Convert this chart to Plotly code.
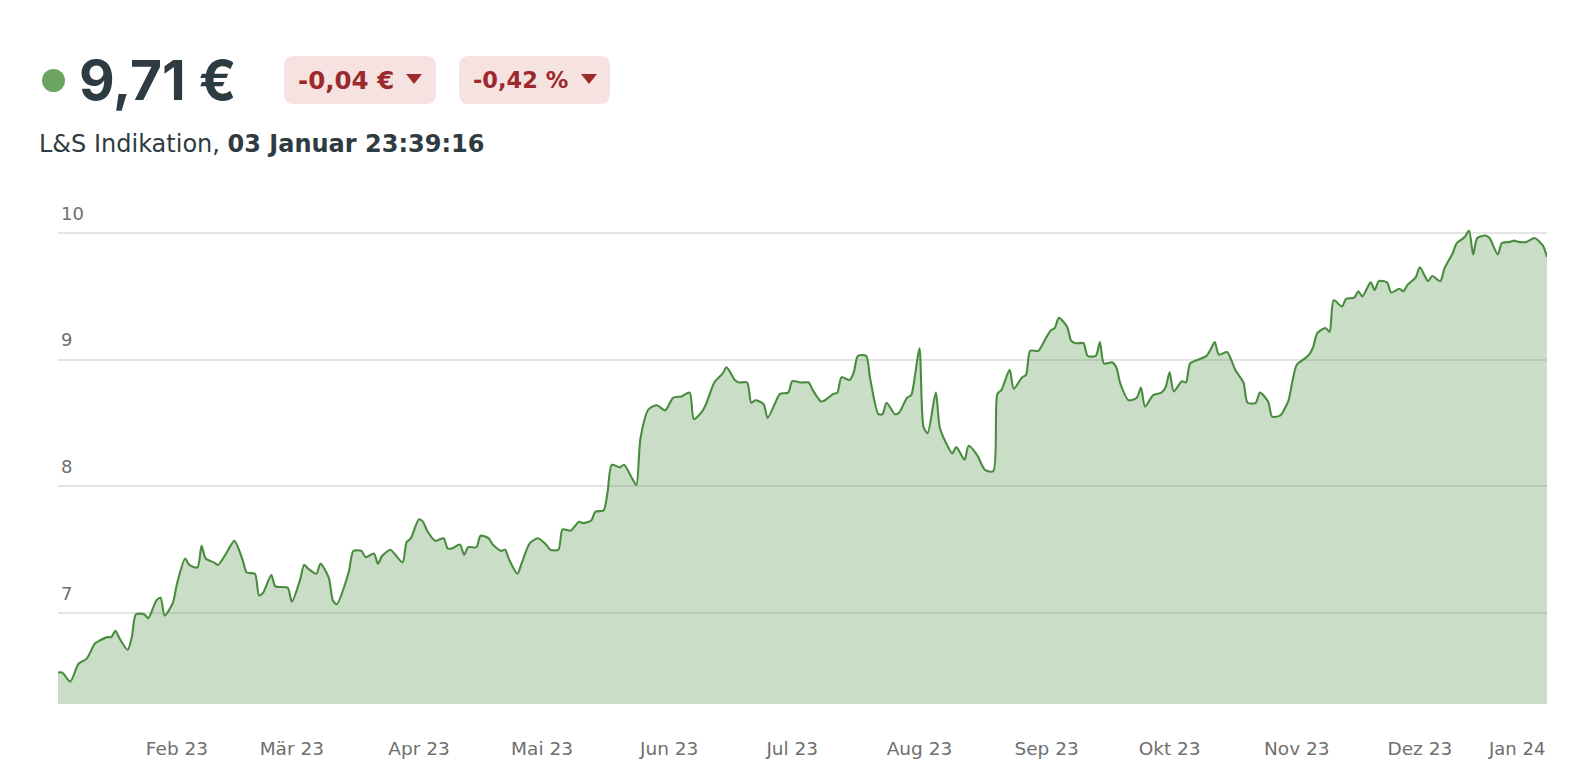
import pandas as pd
import plotly.graph_objects as go

# ---------------- data ----------------
start_date = "2023-01-03"

day = [0, 1, 3, 5, 7, 9, 10, 12, 13, 14, 15, 17, 18, 19, 21, 22, 24, 25, 26, 28,
       29, 31, 32, 34, 35, 36, 38, 39, 41, 43, 45, 46, 48, 49, 50, 52, 53, 56, 57, 59,
       60, 61, 63, 64, 66, 67, 68, 70, 71, 72, 74, 75, 77, 78, 79, 81, 82, 84, 85, 86,
       88, 89, 90, 92, 94, 95, 96, 98, 99, 100, 102, 103, 105, 106, 108, 109, 110, 112, 113, 115,
       117, 119, 120, 122, 123, 125, 127, 128, 130, 131, 133, 134, 135, 137, 138, 140, 141, 142, 144, 146,
       148, 150, 152, 154, 155, 157, 158, 160, 162, 163, 165, 166, 168, 169, 170, 172, 173, 175, 176, 178,
       179, 181, 183, 184, 186, 187, 189, 190, 191, 193, 194, 195, 197, 198, 200, 201, 202, 204, 205, 207,
       208, 210, 211, 212, 214, 215, 217, 218, 219, 221, 222, 224, 226, 228, 229, 230, 232, 233, 235, 236,
       237, 239, 241, 242, 243, 244, 246, 247, 248, 250, 251, 253, 254, 255, 257, 258, 259, 261, 263, 264,
       265, 267, 269, 270, 271, 272, 274, 275, 276, 278, 280, 281, 282, 283, 285, 286, 287, 289, 290, 292,
       293, 295, 296, 298, 299, 300, 301, 302, 304, 305, 306, 307, 309, 310, 311, 313, 314, 316, 317, 318,
       320, 321, 322, 324, 325, 327, 328, 329, 331, 332, 334, 335, 337, 338, 340, 341, 343, 344, 345, 346,
       348, 349, 351, 352, 354, 355, 356, 358, 360, 362, 363]

price = [6.53, 6.53, 6.46, 6.60, 6.64, 6.76, 6.78, 6.81, 6.81, 6.86, 6.80, 6.71, 6.81, 6.99, 6.99, 6.96, 7.10, 7.12, 6.98, 7.08,
         7.23, 7.43, 7.38, 7.36, 7.53, 7.43, 7.40, 7.38, 7.47, 7.57, 7.42, 7.32, 7.31, 7.14, 7.16, 7.30, 7.21, 7.20, 7.09, 7.26,
         7.38, 7.35, 7.31, 7.39, 7.28, 7.10, 7.07, 7.23, 7.34, 7.49, 7.49, 7.44, 7.47, 7.39, 7.45, 7.50, 7.47, 7.40, 7.56, 7.59,
         7.74, 7.72, 7.65, 7.57, 7.59, 7.51, 7.51, 7.54, 7.46, 7.52, 7.52, 7.61, 7.59, 7.54, 7.49, 7.50, 7.42, 7.31, 7.39, 7.55,
         7.59, 7.54, 7.50, 7.50, 7.66, 7.65, 7.72, 7.71, 7.73, 7.80, 7.81, 7.96, 8.17, 8.15, 8.17, 8.06, 8.01, 8.38, 8.61, 8.64,
         8.60, 8.70, 8.71, 8.74, 8.53, 8.59, 8.65, 8.82, 8.89, 8.94, 8.84, 8.82, 8.82, 8.66, 8.68, 8.65, 8.54, 8.67, 8.73, 8.74,
         8.83, 8.82, 8.82, 8.76, 8.67, 8.68, 8.73, 8.74, 8.86, 8.84, 8.90, 9.03, 9.03, 8.85, 8.57, 8.57, 8.66, 8.57, 8.58, 8.70,
         8.72, 9.09, 8.47, 8.42, 8.74, 8.46, 8.31, 8.26, 8.31, 8.21, 8.32, 8.25, 8.13, 8.12, 8.73, 8.76, 8.92, 8.77, 8.86, 8.88,
         9.07, 9.07, 9.18, 9.23, 9.25, 9.33, 9.26, 9.15, 9.13, 9.13, 9.03, 9.03, 9.14, 8.97, 8.98, 8.94, 8.81, 8.68, 8.70, 8.78,
         8.63, 8.72, 8.74, 8.78, 8.90, 8.75, 8.83, 8.82, 8.97, 9.00, 9.03, 9.08, 9.14, 9.04, 9.06, 9.00, 8.92, 8.82, 8.66, 8.66,
         8.74, 8.67, 8.55, 8.56, 8.61, 8.68, 8.84, 8.96, 9.01, 9.04, 9.10, 9.21, 9.25, 9.22, 9.47, 9.42, 9.48, 9.49, 9.54, 9.50,
         9.61, 9.55, 9.62, 9.61, 9.53, 9.56, 9.54, 9.59, 9.65, 9.73, 9.62, 9.66, 9.62, 9.72, 9.84, 9.92, 9.97, 10.02, 9.83, 9.96,
         9.98, 9.96, 9.83, 9.92, 9.93, 9.94, 9.93, 9.93, 9.96, 9.90, 9.81]

month_ticks = ["2023-02-01", "2023-03-01", "2023-04-01", "2023-05-01", "2023-06-01", "2023-07-01",
               "2023-08-01", "2023-09-01", "2023-10-01", "2023-11-01", "2023-12-01"]
month_labels = ["Feb 23", "Mär 23", "Apr 23", "Mai 23", "Jun 23", "Jul 23",
                "Aug 23", "Sep 23", "Okt 23", "Nov 23", "Dez 23"]
last_label = "Jan 24"
y_ticks = [7, 8, 9, 10]
y_labels = ["7", "8", "9", "10"]

price_now = "9,71 €"
change_abs = "-0,04 €"
change_pct = "-0,42 %"
source_text = "L&S Indikation, "
time_text = "03 Januar 23:39:16"

# ---------------- styling ----------------
LINE = "#4a8c3f"
FILL = "rgba(74,140,63,0.29)"
GRID = "#e4e4e4"
TICK = "#6f6f6f"
DARK = "#2f3b42"
RED = "#9c2a2d"
BADGE = "#f6e2e0"
DOT = "#6ba560"
FONT_BIG = "Inter, Lato, sans-serif"
FONT = "DejaVu Sans, Verdana, sans-serif"

W, H = 1592, 777
ML, MR, MT, MB = 58, 45, 195, 73
PW = W - ML - MR
PH = H - MT - MB


def px(x):
    return (x - ML) / PW


def py(y):
    return (H - MB - y) / PH


def rounded(x0, y0, x1, y1, r):
    return (f"M {px(x0 + r)},{py(y0)} L {px(x1 - r)},{py(y0)} Q {px(x1)},{py(y0)} {px(x1)},{py(y0 + r)} "
            f"L {px(x1)},{py(y1 - r)} Q {px(x1)},{py(y1)} {px(x1 - r)},{py(y1)} "
            f"L {px(x0 + r)},{py(y1)} Q {px(x0)},{py(y1)} {px(x0)},{py(y1 - r)} "
            f"L {px(x0)},{py(y0 + r)} Q {px(x0)},{py(y0)} {px(x0 + r)},{py(y0)} Z")


def tri(xc, yc, w, h):
    return (f"M {px(xc - w / 2)},{py(yc - h / 2)} L {px(xc + w / 2)},{py(yc - h / 2)} "
            f"L {px(xc)},{py(yc + h / 2)} Z")


dates = pd.Timestamp(start_date) + pd.to_timedelta(day, unit="D")

fig = go.Figure()
fig.add_trace(go.Scatter(
    x=dates, y=price, mode="lines",
    line=dict(color=LINE, width=2.1, shape="spline", smoothing=0.7),
    fill="tozeroy", fillcolor=FILL, hoverinfo="x+y", showlegend=False,
))

shapes = [
    dict(type="circle", xref="paper", yref="paper",
         x0=px(42), x1=px(65), y0=py(69), y1=py(92),
         fillcolor=DOT, line=dict(width=0)),
    dict(type="path", xref="paper", yref="paper", path=rounded(284, 56, 436, 104, 10),
         fillcolor=BADGE, line=dict(width=0)),
    dict(type="path", xref="paper", yref="paper", path=rounded(459, 56, 610, 104, 10),
         fillcolor=BADGE, line=dict(width=0)),
    dict(type="path", xref="paper", yref="paper", path=tri(414, 79, 16, 10),
         fillcolor=RED, line=dict(width=0)),
    dict(type="path", xref="paper", yref="paper", path=tri(589, 79, 16, 10),
         fillcolor=RED, line=dict(width=0)),
]

annotations = [
    dict(text=f"<b>{price_now}</b>", x=px(77), y=py(80), xref="paper", yref="paper",
         xanchor="left", yanchor="middle", showarrow=False,
         font=dict(family=FONT_BIG, size=55, color=DARK)),
    dict(text=f"<b>{change_abs}</b>", x=px(296), y=py(80), xref="paper", yref="paper",
         xanchor="left", yanchor="middle", showarrow=False,
         font=dict(family=FONT, size=24.5, color=RED)),
    dict(text=f"<b>{change_pct}</b>", x=px(471), y=py(80), xref="paper", yref="paper",
         xanchor="left", yanchor="middle", showarrow=False,
         font=dict(family=FONT, size=22.5, color=RED)),
    dict(text=f"{source_text}<b>{time_text}</b>", x=px(37), y=py(144), xref="paper", yref="paper",
         xanchor="left", yanchor="middle", showarrow=False,
         font=dict(family=FONT, size=24, color=DARK)),
    dict(text=last_label, x=1, y=py(748), xref="paper", yref="paper",
         xanchor="right", yanchor="middle", showarrow=False,
         font=dict(family=FONT, size=18, color=TICK)),
]

fig.update_layout(
    width=W, height=H,
    margin=dict(l=ML, r=MR, t=MT, b=MB, pad=0),
    paper_bgcolor="white", plot_bgcolor="white",
    font=dict(family=FONT),
    shapes=shapes, annotations=annotations,
    xaxis=dict(
        range=[dates[0], dates[-1]],
        showgrid=False, zeroline=False, showline=False,
        tickmode="array", tickvals=month_ticks, ticktext=month_labels,
        ticks="", ticklabelstandoff=31,
        tickfont=dict(family=FONT, size=18.5, color=TICK),
    ),
    yaxis=dict(
        range=[6.282, 10.30],
        tickmode="array", tickvals=y_ticks, ticktext=y_labels,
        ticklabelposition="inside top", ticklabelshift=-7,
        showgrid=True, gridcolor=GRID, gridwidth=1.5,
        zeroline=False, showline=False, ticks="",
        tickfont=dict(family=FONT, size=18, color=TICK),
    ),
)

fig.write_html("out.html", config={"displayModeBar": False},
               post_script="document.body.style.margin='0';")
